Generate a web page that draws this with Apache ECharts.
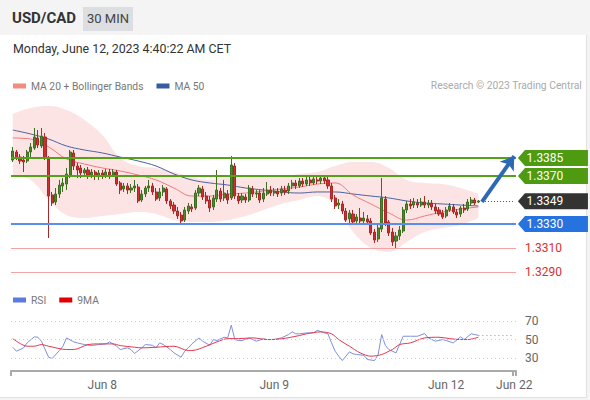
<!DOCTYPE html>
<html><head><meta charset="utf-8">
<script src="https://cdn.jsdelivr.net/npm/echarts@6/dist/echarts.min.js"></script>
<style>
html,body{margin:0;padding:0;width:590px;height:400px;overflow:hidden;background:#f4f4f4;font-family:Roboto,'Liberation Sans',Arial,sans-serif;}
#hdr{position:absolute;left:0;top:0;width:590px;height:35px;background:#f4f4f4;}
#sym{position:absolute;left:12px;top:11px;font-size:15px;line-height:15px;font-weight:bold;color:#333;}
#tf{position:absolute;left:83px;top:7px;width:50px;height:24px;background:#dcdee1;color:#444;font-size:13px;line-height:24px;text-align:center;}
#panel{position:absolute;left:0;top:35px;width:586px;height:362px;background:#fff;border-right:1px solid #e2e2e2;border-bottom:1px solid #e2e2e2;}
#date{position:absolute;left:13px;top:41px;font-size:12.4px;line-height:15px;color:#333;}
#chart{position:absolute;left:0;top:0;width:590px;height:400px;}
</style></head>
<body>
<div id="hdr"><div id="sym">USD/CAD</div><div id="tf">30 MIN</div></div>
<div id="panel"></div>
<div id="date">Monday, June 12, 2023 4:40:22 AM CET</div>
<div id="chart"></div>
<script>
// ---- data ----
const tickIdx = [25, 73, 121, 140];
const tickLabels = ['Jun 8', 'Jun 9', 'Jun 12', 'Jun 22'];
const slotCount = 141;

const opens = [
1.33833,1.339,1.33858,1.33833,1.33825,1.339,1.33933,1.34017,1.3395,1.34025,
1.3385,1.33542,1.33483,1.3355,1.33617,1.33633,1.33708,1.33892,1.33783,1.33767,
1.33725,1.3375,1.33708,1.33733,1.337,1.33725,1.337,1.33733,1.33708,1.33733,
1.33642,1.33592,1.33617,1.33583,1.336,1.33608,1.335,1.3355,1.336,1.33617,
1.33567,1.33517,1.33567,1.33592,1.33492,1.33458,1.33408,1.33375,1.33333,1.33408,
1.33442,1.33433,1.33558,1.33592,1.33533,1.335,1.33442,1.33508,1.33575,1.33517,
1.3355,1.33517,1.33783,1.33533,1.335,1.33525,1.335,1.33592,1.3355,1.33558,
1.33508,1.3355,1.33583,1.33558,1.33575,1.33558,1.33583,1.33575,1.33617,1.33642,
1.33617,1.33658,1.33633,1.33667,1.33642,1.33667,1.33658,1.33683,1.33667,1.33617,
1.33517,1.33458,1.33467,1.33408,1.33342,1.33383,1.33325,1.3335,1.33325,1.33342,
1.33325,1.33233,1.33175,1.33258,1.33508,1.33317,1.33233,1.33158,1.332,1.33242,
1.33417,1.33467,1.33458,1.33475,1.33458,1.33483,1.33458,1.33475,1.33442,1.33417,
1.33392,1.33367,1.33417,1.33442,1.334,1.33383,1.33433,1.33425,1.33475,1.335,
1.33483];
const closes = [
1.33908,1.3385,1.33825,1.33817,1.339,1.33942,1.34025,1.33958,1.34033,1.3385,
1.33533,1.33475,1.3355,1.33625,1.33642,1.33717,1.339,1.33783,1.3375,1.33725,
1.3375,1.33708,1.33733,1.337,1.33725,1.337,1.33733,1.33708,1.33733,1.33633,
1.33583,1.33617,1.33583,1.336,1.33617,1.33492,1.3355,1.336,1.33617,1.33567,
1.33508,1.33567,1.336,1.33492,1.3345,1.33408,1.33367,1.33325,1.33417,1.3345,
1.33425,1.33558,1.336,1.33525,1.33492,1.33433,1.33517,1.33583,1.33508,1.33558,
1.335,1.33792,1.33533,1.33492,1.33533,1.335,1.336,1.3355,1.33558,1.335,
1.33558,1.33583,1.33558,1.33575,1.3355,1.33592,1.33567,1.33617,1.33642,1.33617,
1.33658,1.33633,1.33667,1.33642,1.33675,1.33658,1.33683,1.33658,1.33617,1.33508,
1.3345,1.33475,1.33408,1.33333,1.33392,1.33317,1.33358,1.33325,1.3335,1.33317,
1.33225,1.33167,1.33267,1.33517,1.33308,1.33225,1.3315,1.332,1.3325,1.33417,
1.33467,1.3345,1.33483,1.33458,1.33483,1.33458,1.33475,1.33442,1.33408,1.33383,
1.33358,1.33417,1.3345,1.334,1.33375,1.33433,1.33417,1.33483,1.335,1.33475,
1.33492];
const lows = [
1.33817,1.33833,1.338,1.33733,1.33808,1.3385,1.33917,1.33933,1.33933,1.33833,
1.33183,1.3345,1.33458,1.33517,1.33567,1.33583,1.33683,1.3375,1.33683,1.33683,
1.33692,1.33675,1.33683,1.33667,1.33667,1.33675,1.33683,1.33675,1.33692,1.33617,
1.3355,1.33567,1.3355,1.33558,1.33567,1.33475,1.33483,1.33525,1.33567,1.33542,
1.33492,1.33492,1.33533,1.33467,1.33425,1.33383,1.33342,1.333,1.33317,1.33383,
1.334,1.33417,1.33533,1.335,1.33467,1.334,1.33417,1.33483,1.33483,1.33492,
1.33467,1.335,1.33508,1.33467,1.33475,1.33475,1.33483,1.33525,1.33517,1.33475,
1.33483,1.33533,1.33533,1.33533,1.33525,1.33533,1.33542,1.3355,1.33592,1.33592,
1.336,1.33608,1.33617,1.33617,1.33625,1.33633,1.33633,1.33633,1.33592,1.33483,
1.33425,1.33425,1.33383,1.33317,1.33308,1.333,1.333,1.333,1.333,1.33292,
1.33208,1.33142,1.3315,1.33233,1.33283,1.332,1.33117,1.331,1.33167,1.33225,
1.33392,1.33425,1.33433,1.33433,1.33442,1.33433,1.33433,1.33417,1.33383,1.33367,
1.33342,1.3335,1.334,1.33383,1.3335,1.33358,1.33392,1.33408,1.3345,1.33458,
1.33475];
const highs = [
1.33942,1.33917,1.33883,1.33867,1.33917,1.33975,1.341,1.34083,1.341,1.34058,
1.33867,1.33567,1.336,1.33667,1.33683,1.33767,1.33917,1.33917,1.33808,1.33792,
1.33767,1.33775,1.33758,1.3375,1.3375,1.3375,1.33758,1.33758,1.33758,1.3375,
1.33658,1.33642,1.33642,1.33633,1.33667,1.33633,1.33583,1.33617,1.33667,1.33642,
1.336,1.336,1.33625,1.33608,1.33508,1.33483,1.33442,1.334,1.33442,1.33475,
1.33467,1.33583,1.33625,1.33617,1.33567,1.33533,1.33542,1.3375,1.336,1.33667,
1.33583,1.33867,1.33808,1.33558,1.33558,1.3355,1.33625,1.33617,1.33583,1.33583,
1.336,1.3365,1.33617,1.336,1.336,1.33617,1.33617,1.33642,1.33667,1.33667,
1.33683,1.33683,1.33692,1.33692,1.33692,1.33692,1.337,1.337,1.33692,1.33642,
1.33542,1.33508,1.33492,1.33433,1.33417,1.33417,1.33383,1.33433,1.334,1.33375,
1.3335,1.33258,1.33292,1.33683,1.33533,1.33333,1.33267,1.33233,1.33283,1.33442,
1.33492,1.33508,1.33517,1.33508,1.33517,1.33533,1.335,1.335,1.33467,1.33442,
1.33417,1.33442,1.33475,1.33467,1.33425,1.3345,1.33467,1.33508,1.33525,1.33517,
1.335];

const bandIdx = [0,5,10,15,20,25,30,35,40,45,50,55,60,65,70,75,80,85,90,95,100,105,110,115,120,125,130];
const ma50 = [1.34083,1.3405,1.34008,1.3395,1.33917,1.33892,1.33858,1.33825,1.33783,1.33717,1.33667,1.33642,1.33625,1.336,1.33583,1.33567,1.33558,1.33567,1.33567,1.3355,1.33533,1.33517,1.33492,1.33475,1.33467,1.33458,1.3345];
const ma20 = [1.34017,1.34008,1.33942,1.33842,1.338,1.33767,1.33742,1.33708,1.33667,1.336,1.33533,1.33533,1.3355,1.33558,1.33575,1.33592,1.33608,1.33633,1.33642,1.33542,1.33467,1.33392,1.33333,1.33367,1.334,1.33425,1.33442];
const bbUpper = [1.34217,1.34267,1.34283,1.3425,1.34167,1.34042,1.3385,1.33783,1.33767,1.33733,1.33692,1.33667,1.33708,1.33708,1.337,1.337,1.33717,1.33733,1.33783,1.33817,1.33817,1.33767,1.33667,1.33642,1.33633,1.336,1.3355];
const bbLower = [1.337,1.33667,1.335,1.33375,1.3335,1.33367,1.33383,1.334,1.33383,1.33333,1.33317,1.33317,1.33333,1.33367,1.33417,1.33467,1.335,1.33533,1.33458,1.33233,1.331,1.33067,1.3315,1.33233,1.33267,1.33292,1.3335];

const rsiIdx = [0,1,3,4,6,7,8,10,11,13,14,15,17,18,20,22,24,26,27,29,30,32,33,34,36,37,39,40,41,42,44,45,47,48,49,50,52,53,55,56,57,59,60,61,62,63,64,66,67,68,70,71,73,75,77,78,79,80,82,84,85,87,88,89,90,91,92,94,95,96,98,99,101,102,103,104,105,107,108,109,111,113,115,116,118,120,121,123,125,126,128,129,130];
const rsiVal = [41.7,37.4,41,46.4,52.9,52.5,48.2,30.9,29.5,38.1,42.8,51.8,47.5,46.4,44.6,43.5,44.6,45.3,47.5,42.8,39.2,41,39.2,34.9,41,44.6,43.8,41,46.4,44.6,39.2,35.6,30.9,37.4,41,45.3,51.8,48.2,43.8,50,48.9,52.5,51.8,65.5,50,48.9,48.9,51.8,50,48.2,50.8,50,50,51.8,55.4,58.3,56.2,56.2,57.2,57.2,60,57.2,56.2,46.4,37.4,32,27.3,36.7,34.5,33.8,33,28.4,27.3,33.8,55.4,43.8,39.2,35.6,44.6,53.6,53.6,53.6,56.5,51.8,48.2,50,48.9,46.4,52.9,50,56.2,55.4,54.6];
const ma9Idx = [0,4,6,8,10,15,17,21,24,28,30,34,36,40,45,49,50,54,57,60,63,67,71,75,80,82,86,89,91,94,97,100,103,105,106,108,111,115,119,122,125,127,130];
const ma9Val = [51,42.8,42.8,44.6,42.8,39.2,39.2,44.6,45.3,45.3,43.5,41.7,41,41.7,42.8,38.1,38.1,42.8,47.5,51,51,51.8,50,50.8,54.3,56.2,58.3,56.2,50,42.8,35.6,32,33.8,37.4,39.2,44.6,46.4,51.8,52.5,51,50,50,52.5];

const tagLevels = [1.3385, 1.3370, 1.3349, 1.3330];
const tagColors = ['#4e9a10', '#4e9a10', '#333333', '#2673e0'];
const redLevels = [1.3310, 1.3290];
const lastPrice = 1.3349;
const arrowFrom = 1.33485, arrowTo = 1.33865;
const rsiLevels = [70, 50, 30];
const lastRsi = 54.6;

// ---- build ----
const cats = [];
for (let i = 0; i < slotCount; i++) cats.push(String(i));
const lastIdx = opens.length - 1;
const candles = opens.map((o, i) => [o, closes[i], lows[i], highs[i]]);
const pairs = (xs, ys) => xs.map((x, i) => [x, ys[i]]);
const bandWidth = bbUpper.map((u, i) => u - bbLower[i]);
const FONT = 'Roboto, "Liberation Sans", Arial, sans-serif';
const GREEN = '#56a11c', BLUE = '#5b8def';
const tagPath = 'path://M0,8L7,0L70,0L70,16L7,16Z';
const LFS = 10.3;

const chart = echarts.init(document.getElementById('chart'), null, {renderer: 'svg'});
chart.setOption({
  animation: false,
  backgroundColor: 'transparent',
  textStyle: {fontFamily: FONT},
  legend: [
    {left: 8, top: 76, itemWidth: 13, itemHeight: 5, itemGap: 13, selectedMode: false,
     textStyle: {fontSize: LFS, color: '#777', fontFamily: FONT},
     data: [{name: 'MA 20 + Bollinger Bands', icon: 'rect', itemStyle: {color: '#f28b82'}},
            {name: 'MA 50', icon: 'rect', itemStyle: {color: '#3a5ba0'}}]},
    {left: 8, top: 290, itemWidth: 13, itemHeight: 5, itemGap: 13, selectedMode: false,
     textStyle: {fontSize: LFS, color: '#777', fontFamily: FONT},
     data: [{name: 'RSI', icon: 'rect', itemStyle: {color: '#5b7be0'}},
            {name: '9MA', icon: 'rect', itemStyle: {color: '#e00000'}}]}
  ],
  graphic: [{type: 'text', right: 8, top: 80,
    style: {text: 'Research \u00a9 2023 Trading Central', fontSize: LFS, fill: '#aaa', fontFamily: FONT}}],
  grid: [
    {left: 11, right: 74, top: 100, height: 185},
    {left: 11, right: 74, top: 315.5, height: 55.5}
  ],
  xAxis: [
    {type: 'category', gridIndex: 0, data: cats, boundaryGap: true, show: false},
    {type: 'category', gridIndex: 1, data: cats, boundaryGap: true,
     axisLine: {lineStyle: {color: '#aaa', width: 2}},
     axisTick: {show: true, length: 5, lineStyle: {color: '#aaa', width: 2},
                interval: (i) => i === 0 || i === slotCount - 1},
     axisLabel: {interval: (i) => tickIdx.indexOf(i) >= 0, color: '#666', fontSize: 12, margin: 8,
                 formatter: (v, i) => tickLabels[tickIdx.indexOf(i)] || ''},
     splitLine: {show: false}}
  ],
  yAxis: [
    {type: 'value', gridIndex: 0, min: 1.3279167, max: 1.3433333, show: false},
    {type: 'value', gridIndex: 1, min: 16, max: 76, position: 'right',
     axisLine: {show: false}, axisTick: {show: false}, splitLine: {show: false},
     axisLabel: {customValues: rsiLevels, color: '#666', fontSize: 12, margin: 9}}
  ],
  series: [
    {type: 'line', name: 'bbL', z: 1, stack: 'bb', xAxisIndex: 0, yAxisIndex: 0, data: pairs(bandIdx, bbLower),
     smooth: 0.4, symbol: 'none', silent: true, lineStyle: {width: 0, opacity: 0}},
    {type: 'line', name: 'bbU', z: 1, stack: 'bb', xAxisIndex: 0, yAxisIndex: 0, data: pairs(bandIdx, bandWidth),
     smooth: 0.4, symbol: 'none', silent: true, lineStyle: {width: 0, opacity: 0},
     areaStyle: {color: '#fde4e4', opacity: 1}},
    {type: 'line', name: 'MA 50', z: 2, xAxisIndex: 0, yAxisIndex: 0, data: pairs(bandIdx, ma50),
     smooth: 0.4, symbol: 'none', silent: true, lineStyle: {width: 1, color: '#4a62a0'}, itemStyle: {color: '#3a5ba0'}},
    {type: 'line', name: 'MA 20 + Bollinger Bands', z: 2, xAxisIndex: 0, yAxisIndex: 0, data: pairs(bandIdx, ma20),
     smooth: 0.4, symbol: 'none', silent: true, lineStyle: {width: 1, color: '#ef7a7a'}, itemStyle: {color: '#f28b82'}},
    {type: 'candlestick', name: 'price', z: 3, xAxisIndex: 0, yAxisIndex: 0, data: candles, barWidth: 2.6,
     itemStyle: {color: '#4b8a26', color0: '#cc2f2f', borderColor: '#3d6e22', borderColor0: '#a82828', borderWidth: 1}},
    {type: 'line', name: 'levels', z: 4, xAxisIndex: 0, yAxisIndex: 0, data: [[lastIdx, lastPrice]],
     symbol: 'none', silent: true, lineStyle: {opacity: 0},
     markLine: {
       symbol: 'none', silent: true, animation: false, precision: 6,
       data: [
         {yAxis: tagLevels[0], lineStyle: {color: GREEN, width: 2, type: 'solid'}, label: {show: false}},
         {yAxis: tagLevels[1], lineStyle: {color: GREEN, width: 2, type: 'solid'}, label: {show: false}},
         {yAxis: tagLevels[3], lineStyle: {color: BLUE, width: 2, type: 'solid'}, label: {show: false}},
         ...redLevels.map(v => ({yAxis: v, lineStyle: {color: '#f4a4a4', width: 1, type: 'solid'},
           label: {show: true, position: 'end', distance: 9, formatter: v.toFixed(4), color: '#d93030', fontSize: 12, fontFamily: FONT}})),
         [{coord: [lastIdx + 1, lastPrice], lineStyle: {color: '#555', width: 1, type: [1, 2]}, label: {show: false}},
          {coord: [slotCount - 1, lastPrice]}],
         [{coord: [lastIdx + 1, arrowFrom], symbol: 'none', lineStyle: {color: '#2d68b4', width: 4, type: 'solid'}, label: {show: false}},
          {coord: [slotCount - 1, arrowTo], symbol: 'arrow', symbolSize: [13, 13]}]
       ]
     },
     markPoint: {
       silent: true, animation: false,
       data: tagLevels.map((v, i) => ({
         coord: [slotCount - 1, v], value: v, symbol: tagPath, symbolSize: [70, 16], symbolOffset: [38.7, 0],
         itemStyle: {color: tagColors[i]},
         label: {show: true, formatter: v.toFixed(4), color: '#fff', fontSize: 12, offset: [-8, 0], fontFamily: FONT}
       }))
     }},
    {type: 'line', name: 'RSI', xAxisIndex: 1, yAxisIndex: 1, data: pairs(rsiIdx, rsiVal),
     symbol: 'none', silent: true, lineStyle: {width: 1, color: '#7d8fdc'}, itemStyle: {color: '#5b7be0'},
     markLine: {symbol: 'none', silent: true, label: {show: false}, precision: 4,
       data: [
         {yAxis: rsiLevels[0], lineStyle: {color: '#c9cbe0', width: 1, type: [1, 3]}},
         {yAxis: rsiLevels[1], lineStyle: {color: '#e9c2c9', width: 1, type: [1, 3]}},
         {yAxis: rsiLevels[2], lineStyle: {color: '#c9cbe0', width: 1, type: [1, 3]}},
         [{coord: [lastIdx, lastRsi], lineStyle: {color: '#7d8fdc', width: 1, type: [1, 3]}}, {coord: [slotCount - 1, lastRsi]}]
       ]}},
    {type: 'line', name: '9MA', xAxisIndex: 1, yAxisIndex: 1, data: pairs(ma9Idx, ma9Val),
     smooth: 0.3, symbol: 'none', silent: true, lineStyle: {width: 1, color: '#e2384e'}, itemStyle: {color: '#e00000'}}
  ]
});
</script>
</body></html>
